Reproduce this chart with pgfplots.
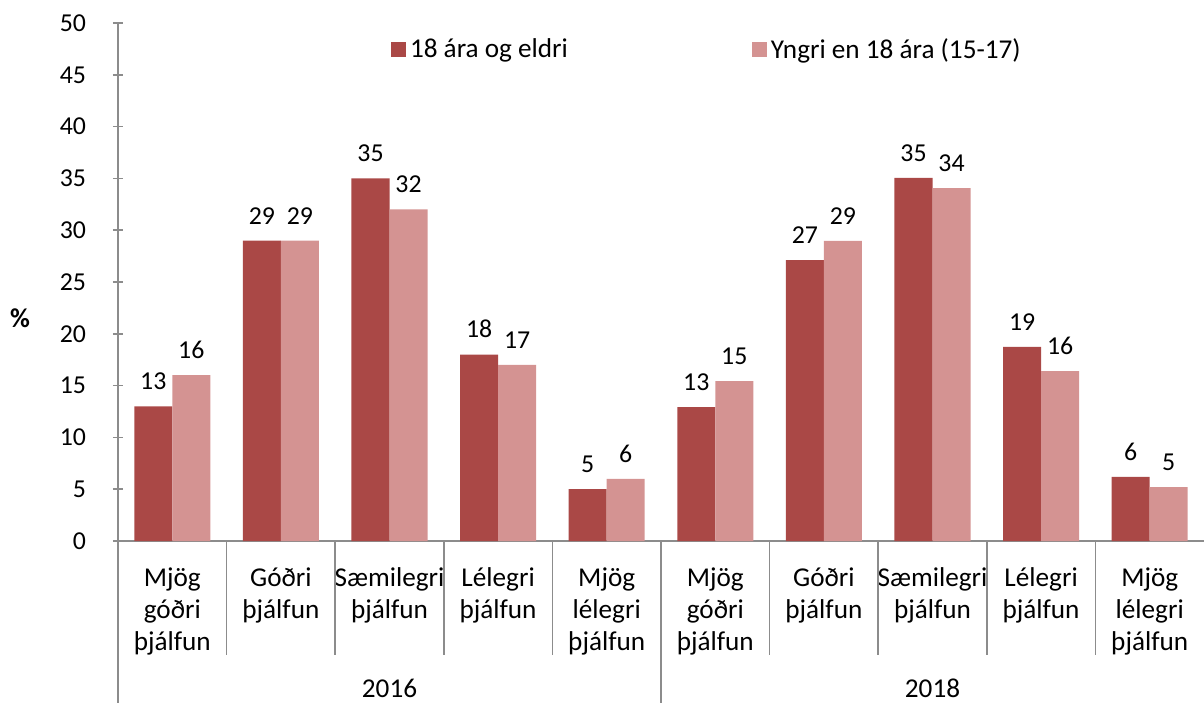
\documentclass[border=0pt]{standalone}
\usepackage{fontspec}
\setmainfont{Carlito}
\usepackage{pgfplots}
\pgfplotsset{compat=1.18}
\definecolor{darkred}{RGB}{170,72,70}
\definecolor{lightred}{RGB}{212,147,146}
\definecolor{axgray}{RGB}{140,140,140}
\begin{document}
\begin{tikzpicture}[font=\fontsize{13.6}{16}\selectfont]
\begin{axis}[
  scale only axis,
  width=543pt, height=259pt,
  xmin=0, xmax=10, ymin=0, ymax=50,
  ytick={0,5,...,50},
  xtick={0.5,1.5,...,9.5},
  xticklabels={{Mjög\\góðri\\þjálfun},{Góðri\\þjálfun},{Sæmilegri\\þjálfun},{Lélegri\\þjálfun},{Mjög\\lélegri\\þjálfun},
               {Mjög\\góðri\\þjálfun},{Góðri\\þjálfun},{Sæmilegri\\þjálfun},{Lélegri\\þjálfun},{Mjög\\lélegri\\þjálfun}},
  xticklabel style={align=center, anchor=north, yshift=-5pt},
  yticklabel style={font=\fontsize{12.9}{16}\selectfont, xshift=-10pt},
  xtick style={draw=none},
  ytick style={draw=axgray, line width=0.8pt},
  tick align=outside,
  major tick length=5pt,
  axis lines=left,
  axis line style={-, draw=axgray, line width=0.8pt},
  /pgf/number format/assume math mode=true,
  ylabel={\textbf{\%}},
  ylabel style={rotate=-90, at={(rel axis cs:0,0.43)}, anchor=center, xshift=-49pt},
  ybar, bar width=0.35,
  nodes near coords,
  nodes near coords style={font=\fontsize{12.9}{16}\selectfont, /pgf/number format/.cd, fixed, precision=0, /tikz/.cd, yshift=4.7pt},
  clip=false,
  legend columns=2,
  legend style={draw=none, fill=none, at={(rel axis cs:0.2455,0.948)}, anchor=west,
    /tikz/every even column/.append style={column sep=90pt}},
  legend image code/.code={\fill[#1] (0pt,-3.75pt) rectangle (7.5pt,3.75pt);},
]
\addplot[fill=darkred, draw=none, bar shift=-0.175] coordinates {
  (0.5,13) (1.5,29) (2.5,35) (3.5,18) (4.5,5)
  (5.5,12.93) (6.5,27.12) (7.5,35.04) (8.5,18.73) (9.5,6.18)
};
\addplot[fill=lightred, draw=none, bar shift=0.175] coordinates {
  (0.5,16) (1.5,29) (2.5,32) (3.5,17) (4.5,6)
  (5.5,15.44) (6.5,28.96) (7.5,34.07) (8.5,16.4) (9.5,5.21)
};
\legend{18 ára og eldri, Yngri en 18 ára (15-17)}
\foreach \x in {1,2,3,4,6,7,8,9} {
  \edef\temp{\noexpand\draw[axgray, line width=0.8pt] (axis cs:\x,0) -- ++(0,-57pt);}
  \temp
}
\draw[axgray, line width=0.8pt] (axis cs:0,0) -- ++(0,-81pt);
\draw[axgray, line width=0.8pt] (axis cs:5,0) -- ++(0,-81pt);
\node[inner sep=0pt, anchor=base] at (axis cs:2.5,0) [yshift=-78pt] {2016};
\node[inner sep=0pt, anchor=base] at (axis cs:7.5,0) [yshift=-78pt] {2018};
\end{axis}
\pgfresetboundingbox
\path (-59pt,-80.5pt) rectangle (543pt,270.5pt);
\end{tikzpicture}
\end{document}
